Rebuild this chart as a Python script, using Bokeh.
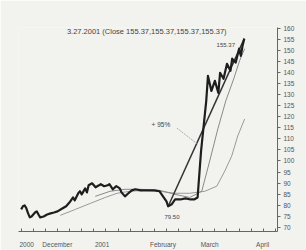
from bokeh.plotting import figure
from bokeh.models import LinearAxis, FixedTicker, Label, Range1d
from bokeh.embed import file_html
from bokeh.resources import INLINE

# days since 2000-11-01
price_day = [16, 17, 18, 19, 20, 21, 22, 24, 25, 26, 27, 29, 31, 33, 35, 37, 40, 42, 44, 46,
             47, 49, 50, 51, 53, 54, 55, 57, 59, 61, 62, 64, 66, 67, 69, 71, 73, 74, 76, 78,
             80, 82, 85, 88, 91, 93, 96, 98, 100, 101, 103, 105, 108, 111, 114, 116, 118, 120,
             123, 124, 126, 128, 130, 131, 133, 135, 137, 138, 140, 142, 143, 144, 145]
price_close = [78.1, 79.5, 79.9, 78.6, 76.3, 74.5, 74.9, 76.7, 77.2, 75.8, 74.5, 74.9, 75.8, 76.3,
               76.7, 77.2, 78.6, 79.5, 81.3, 83.5, 82.2, 85.4, 86.3, 84.9, 87.6, 85.8, 89.0, 89.9,
               88.1, 89.0, 89.5, 88.6, 89.0, 89.5, 87.2, 88.6, 87.6, 85.8, 84.0, 85.4, 86.7, 87.2,
               86.7, 86.7, 86.7, 86.7, 86.3, 84.0, 81.7, 79.5, 80.4, 82.6, 82.6, 83.1, 82.6, 82.6,
               83.5, 104.5, 127.2, 138.5, 131.7, 136.3, 130.8, 139.9, 137.2, 144.0, 140.8, 146.3,
               144.5, 150.8, 147.6, 152.2, 155.37]

ma_long_day = [38.6, 47.3, 55.9, 64.6, 71.5, 79.0, 87.6, 96.2, 104.9, 113.5, 122.2, 129.1, 133.7, 137.7, 141.2, 145.2]
ma_long_val = [75.4, 78.1, 80.8, 83.5, 85.4, 86.3, 86.7, 86.3, 85.4, 85.4, 86.3, 88.6, 95.4, 102.2, 111.3, 119.0]

ma_short_day = [58.8, 67.4, 76.1, 84.7, 96.2, 104.9, 113.5, 120.4, 125.0, 129.7, 134.3, 138.9, 142.3, 145.2]
ma_short_val = [84.0, 86.3, 87.2, 87.2, 86.7, 84.9, 83.5, 86.3, 100.0, 114.5, 127.2, 137.2, 145.4, 150.8]

low_day, low_val = 101, 79.50
high_day, high_val = 145, 155.37

y_ticks = [70, 75, 80, 85, 90, 95, 100, 105, 110, 115, 120, 125, 130, 135, 140, 145, 150, 155, 160]
x_label_pos = [19.2, 36.9, 62.8, 98.0, 125.0, 155.6]
x_labels = ["2000", "December", "2001", "February", "March", "April"]
week_ticks = list(range(16, 165, 7))

title_text = "3.27.2001 (Close 155.37,155.37,155.37,155.37)"
gain_text = "+ 95%"

BG = "#f2f2ef"
FONT = "Liberation Sans"

p = figure(width=306, height=250, output_backend="svg", toolbar_location=None,
           x_range=Range1d(14.45, 164.2), y_range=Range1d(68.1, 160.4),
           x_axis_location=None, y_axis_location=None,
           min_border_left=18, min_border_right=29, min_border_top=27, min_border_bottom=17,
           background_fill_color=BG, border_fill_color=BG)
p.outline_line_color = None
p.grid.visible = False

# right axis
ra = LinearAxis(ticker=FixedTicker(ticks=y_ticks))
ra.axis_line_color = "#666666"
ra.major_tick_line_color = "#666666"
ra.major_tick_out = 3
ra.major_tick_in = 0
ra.minor_tick_line_color = None
ra.major_label_text_font = FONT
ra.major_label_text_font_size = "6.5px"
ra.major_label_text_color = "#555555"
ra.major_label_standoff = 3
p.add_layout(ra, "right")

# bottom axis
ba = LinearAxis(ticker=FixedTicker(ticks=x_label_pos, minor_ticks=week_ticks))
ba.major_label_overrides = {t: s for t, s in zip(x_label_pos, x_labels)}
ba.axis_line_color = "#666666"
ba.major_tick_line_color = None
ba.minor_tick_line_color = "#666666"
ba.minor_tick_in = 3
ba.minor_tick_out = 0
ba.major_label_text_font = FONT
ba.major_label_text_font_size = "6.5px"
ba.major_label_text_color = "#555555"
ba.major_label_standoff = 3
p.add_layout(ba, "below")

# moving averages
p.line(ma_long_day, ma_long_val, line_color="#9a9a9a", line_width=1)
p.line(ma_short_day, ma_short_val, line_color="#8a8a8a", line_width=1)

# trend line low -> high
p.line([low_day, high_day], [low_val, high_val], line_color="#333333", line_width=1.5)

# price
p.line(price_day, price_close, line_color="#1e1e1e", line_width=2.2, line_join="round")

# leader line for gain label
p.line([106, 118.2], [114.9, 107.5], line_color="#999999", line_width=0.8, line_dash="2 1")

def lab(x, y, t, size="6px"):
    p.add_layout(Label(x=x, y=y, text=t, text_font=FONT, text_font_size=size,
                       text_color="#444444", text_align="center", text_baseline="middle"))

lab(88.6, 158.6, title_text, "7.5px")
lab(134.3, 152.6, "155.37")
lab(103.2, 74.6, "79.50")
lab(96.8, 116.7, gain_text, "6.5px")

open("out.html", "w").write(file_html(p, INLINE))
